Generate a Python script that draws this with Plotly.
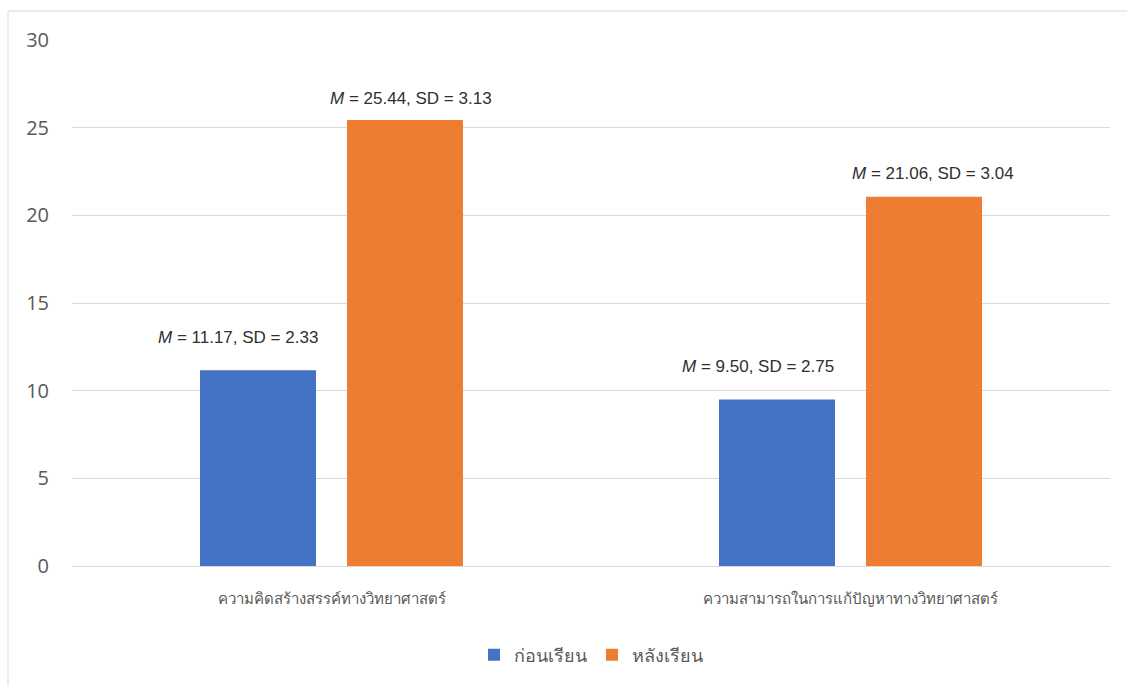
import plotly.graph_objects as go

categories = ["ความคิดสร้างสรรค์ทางวิทยาศาสตร์", "ความสามารถในการแก้ปัญหาทางวิทยาศาสตร์"]
series_names = ["ก่อนเรียน", "หลังเรียน"]
before_means = [11.17, 9.50]
after_means = [25.44, 21.06]
before_sd = [2.33, 2.75]
after_sd = [3.13, 3.04]
y_ticks = [0, 5, 10, 15, 20, 25, 30]

colors = ["#4472C4", "#ED7D31"]
font_family = "Open Sans, Liberation Sans, sans-serif"

fig = go.Figure()
for name, vals, col in zip(series_names, [before_means, after_means], colors):
    fig.add_trace(go.Bar(x=categories, y=vals, name=name, marker=dict(color=col, line=dict(width=0))))

# data labels (Excel-style, manually positioned)
label_offsets = {
    0: [(-20, 33), (-19, 33)],   # before: (xshift, yshift) per category
    1: [(6, 21), (9, 23)],       # after
}
bar_centre = [-73.5, 73.5]
for si, (means, sds) in enumerate([(before_means, before_sd), (after_means, after_sd)]):
    for ci, cat in enumerate(categories):
        dx, dy = label_offsets[si][ci]
        fig.add_annotation(
            x=cat, y=means[ci], xref="x", yref="y",
            text=f"<i>M</i> = {means[ci]:.2f}, SD = {sds[ci]:.2f}",
            showarrow=False, xanchor="center", yanchor="middle",
            xshift=bar_centre[si] + dx, yshift=dy,
            font=dict(family="Liberation Sans, Arial, sans-serif", size=17, color="#303030"),
        )

L, R, T, B = 72, 17, 40, 120
W, H = 1127, 686
pw, ph = W - L - R, H - T - B
fig.add_shape(type="rect", xref="paper", yref="paper",
              x0=(8 - L) / pw, x1=(W + 5 - L) / pw,
              y0=(T + ph - (H + 5)) / ph, y1=(T + ph - 11) / ph,
              line=dict(color="#d9d9d9", width=1), fillcolor="rgba(0,0,0,0)", layer="below")

fig.update_layout(
    width=W, height=H,
    margin=dict(l=L, r=R, t=T, b=B, pad=0, autoexpand=False),
    paper_bgcolor="white", plot_bgcolor="white",
    barmode="group", bargap=0.4335, bargroupgap=0.211,
    font=dict(family=font_family, color="#595959"),
    showlegend=True,
    legend=dict(orientation="h", x=0.5, xanchor="center", y=-0.134, yanchor="top",
                font=dict(size=18, color="#595959"), traceorder="normal", itemwidth=30),
    xaxis=dict(showgrid=False, showline=False, ticks="", tickfont=dict(size=15, color="#595959"),
               ticklabelstandoff=22, automargin=False),
    yaxis=dict(range=[0, 30], tickvals=y_ticks, showgrid=True, gridcolor="#d9d9d9", gridwidth=1,
               zeroline=True, zerolinecolor="#d9d9d9", zerolinewidth=1,
               showline=False, ticks="", tickfont=dict(size=20, color="#595959"),
               ticklabelstandoff=22, automargin=False),
)

fig.write_html("out.html")
